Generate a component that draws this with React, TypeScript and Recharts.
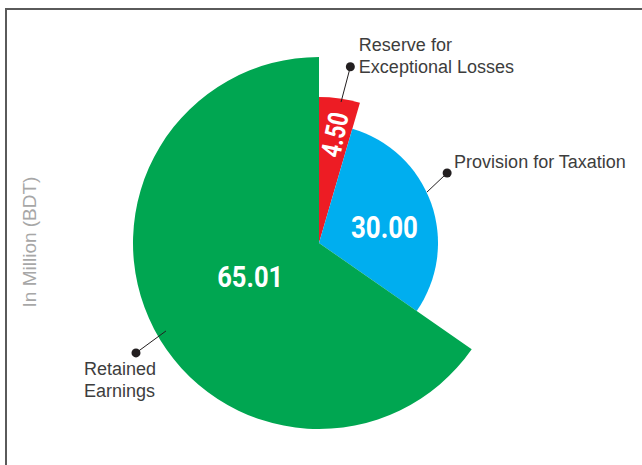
import React from 'react';
import { PieChart, Pie, Cell } from 'recharts';

// ---- data ----
const categories = ['Reserve for Exceptional Losses', 'Provision for Taxation', 'Retained Earnings'];
const values = [4.5, 30.0, 65.01];
const valueLabels = ['4.50', '30.00', '65.01'];
const calloutLines = [['Reserve for', 'Exceptional Losses'], ['Provision for Taxation'], ['Retained', 'Earnings']];
const axisTitle = 'In Million (BDT)';

// ---- style ----
const colors = ['#ed1c24', '#00aeef', '#00a651'];
const radii = [146, 119, 186];
const CX = 319;
const CY = 243;
const RAD = Math.PI / 180;

const valueStyle = [
  { rf: 0.75, da: 0, rot: -78, fs: 28, w: 45 },
  { rf: 0.566, da: -5.8, rot: 0, fs: 31, w: 67 },
  { rf: 0.41, da: -2, rot: 0, fs: 30, w: 66 },
];
const calloutStyle = [
  { a0: -0.75, r0: -3.3, a1: -1.95, r1: 33, tx: 8.5, ty: [-16, 6] },
  { a0: 5.8, r0: 0.4, a1: 9.2, r1: 27, tx: 7, ty: [-5] },
  { a0: 2.3, r0: -9.5, a1: 3.4, r1: 27.5, tx: -52, ty: [22, 44] },
];

const data = categories.map((name, i) => ({ name, value: values[i] }));

const polar = (cx: number, cy: number, r: number, angle: number) => ({
  x: cx + r * Math.cos(-angle * RAD),
  y: cy + r * Math.sin(-angle * RAD),
});

const VALUE_FONT = 'Roboto, "Liberation Sans", sans-serif';
const TEXT_FONT = '"Liberation Sans", Arial, sans-serif';

const makeLabel = (i: number) => (props: any) => {
  const { cx, cy, midAngle, outerRadius, index } = props;
  if (index !== i) return <g />;
  const vs = valueStyle[i];
  const p = polar(cx, cy, outerRadius * vs.rf, midAngle + vs.da);
  const cs = calloutStyle[i];
  const s = polar(cx, cy, outerRadius + cs.r0, midAngle + cs.a0);
  const d = polar(cx, cy, outerRadius + cs.r1, midAngle + cs.a1);
  return (
    <g>
      <g transform={vs.rot ? `rotate(${vs.rot} ${p.x} ${p.y})` : undefined}>
        <text
          x={p.x - vs.w / 2}
          y={p.y + vs.fs * 0.36}
          fill="#ffffff"
          fontFamily={VALUE_FONT}
          fontWeight="bold"
          fontSize={vs.fs}
          textAnchor="start"
          textLength={vs.w}
          lengthAdjust="spacingAndGlyphs"
        >
          {valueLabels[i]}
        </text>
      </g>
      <line x1={s.x} y1={s.y} x2={d.x} y2={d.y} stroke="#231f20" strokeWidth={1} />
      <circle cx={d.x} cy={d.y} r={4.5} fill="#231f20" />
      {calloutLines[i].map((ln, k) => (
        <text
          key={k}
          x={d.x + cs.tx}
          y={d.y + cs.ty[k]}
          fill="#3d3d3d"
          fontFamily={TEXT_FONT}
          fontSize={18}
          textAnchor="start"
        >
          {ln}
        </text>
      ))}
    </g>
  );
};

export default function App() {
  return (
    <div style={{ position: 'absolute', left: 0, top: 0, width: 642, height: 465, overflow: 'hidden', background: '#fff' }}>
      <div
        style={{
          position: 'absolute',
          left: 5,
          top: 8,
          width: 700,
          height: 600,
          border: '2px solid #5a5a5a',
          boxSizing: 'border-box',
        }}
      />
      <div style={{ position: 'absolute', left: 0, top: 0 }}>
        <PieChart width={642} height={465} margin={{ top: 0, right: 0, bottom: 0, left: 0 }}>
          {values.map((_, i) => (
            <Pie
              key={i}
              data={data}
              dataKey="value"
              nameKey="name"
              cx={CX}
              cy={CY}
              innerRadius={0}
              outerRadius={radii[i]}
              startAngle={90}
              endAngle={-270}
              stroke="none"
              isAnimationActive={false}
              label={makeLabel(i)}
              labelLine={false}
            >
              {data.map((_, j) => (
                <Cell key={j} fill={j === i ? colors[i] : 'transparent'} stroke="none" />
              ))}
            </Pie>
          ))}
          <text
            x={36}
            y={242}
            transform="rotate(-90 36 242)"
            textAnchor="middle"
            fill="#a7a7a7"
            fontFamily={TEXT_FONT}
            fontSize={19}
          >
            {axisTitle}
          </text>
        </PieChart>
      </div>
    </div>
  );
}
